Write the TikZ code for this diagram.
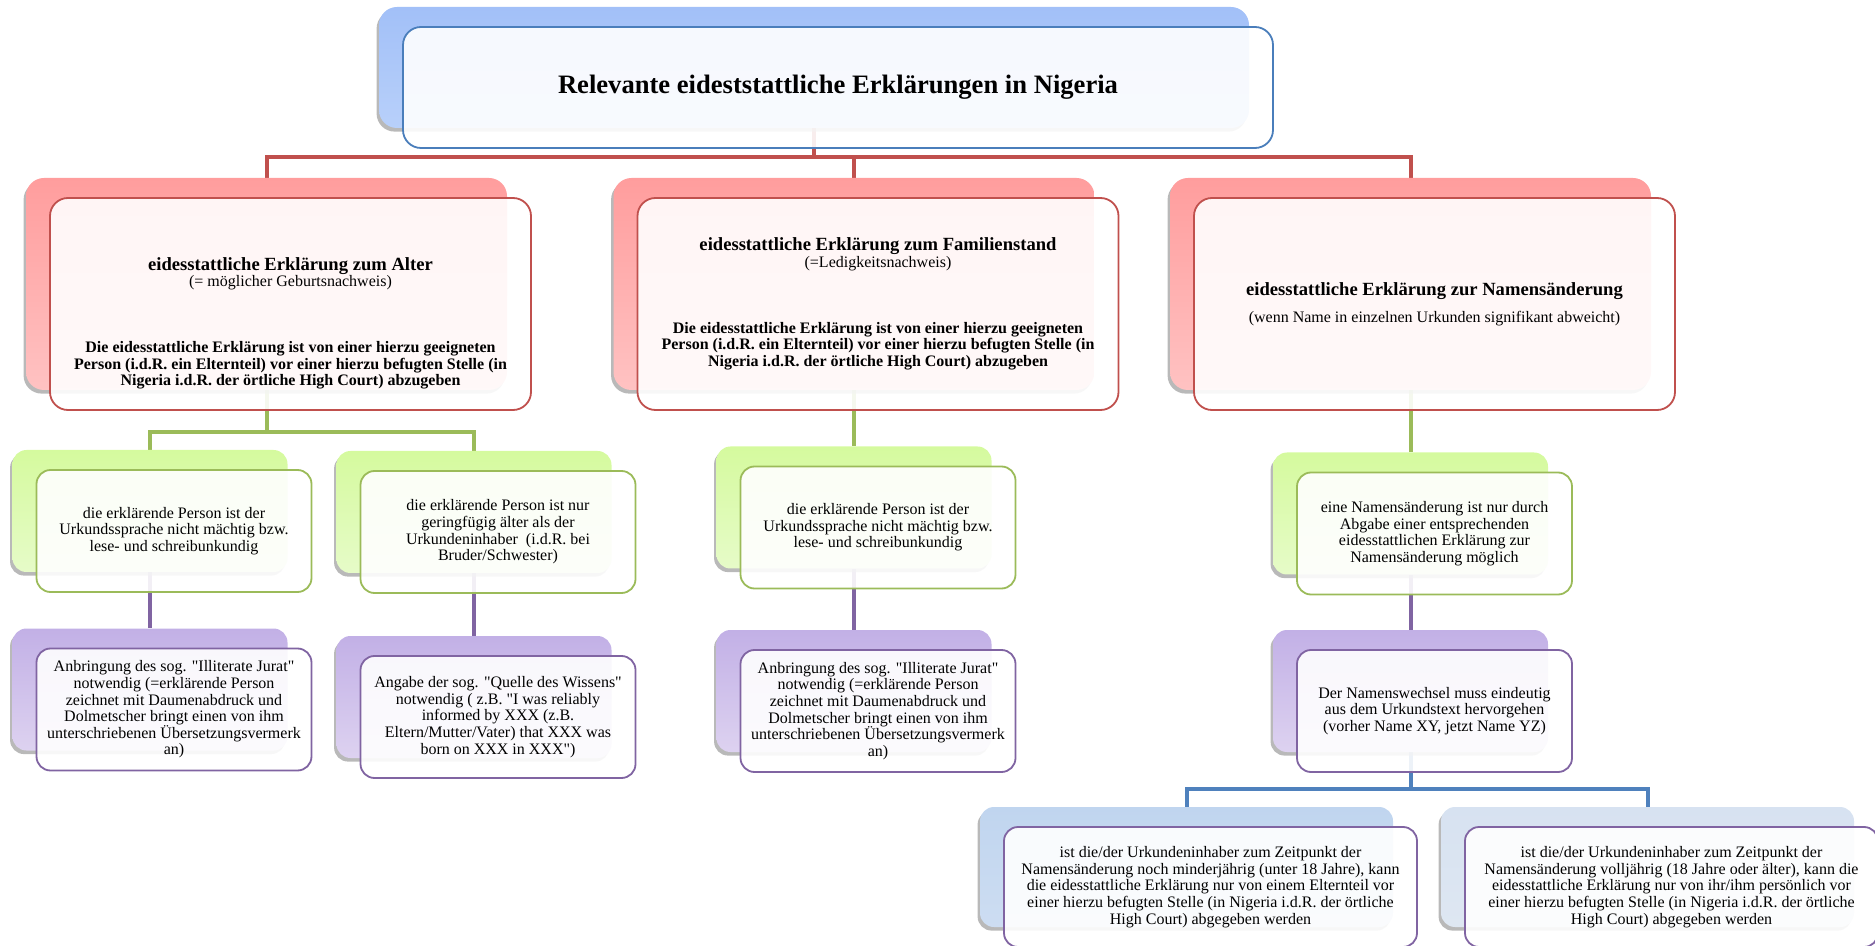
\documentclass[tikz,border=0pt]{standalone}
\usepackage{fontspec}
\setmainfont{Liberation Serif}
\usetikzlibrary{backgrounds, shadows}

\definecolor{lnred}{HTML}{C0504D}
\definecolor{lngreen}{HTML}{9BBB59}
\definecolor{lnpurple}{HTML}{8064A2}
\definecolor{lnblue}{HTML}{4F81BD}
\definecolor{lnframe}{HTML}{4A7EBB}

\newcommand{\headfont}{\fontsize{9.3}{8.4}\selectfont\bfseries}
\newcommand{\qq}{\textquotedbl{}}

\begin{document}
\begin{tikzpicture}[
    x=0.5pt, y=-0.5pt,
    back/.style={rounded corners=9pt,
                 drop shadow={shadow xshift=-1.2pt, shadow yshift=-1.8pt,
                              fill=black!50, opacity=.55}},
    front/.style={draw, rounded corners=9pt, fill=white, fill opacity=.9,
                  text opacity=1, line width=0.9pt, align=center, inner sep=2pt,
                  font=\fontsize{8}{8.3}\selectfont},
    topsize/.style={minimum width=435pt, minimum height=60.5pt},
    big/.style={minimum width=240.5pt, minimum height=106pt},
    small/.style={minimum width=137.5pt, minimum height=61pt, rounded corners=7pt},
    wide/.style={minimum width=206.5pt, minimum height=60pt, rounded corners=7pt},
    bktop/.style={back, topsize, top color={rgb,255:red,162;green,192;blue,248},
                  bottom color={rgb,255:red,184;green,208;blue,250}},
    bkred/.style={back, big, top color={rgb,255:red,255;green,157;blue,157},
                  bottom color={rgb,255:red,255;green,194;blue,194}},
    bkgreen/.style={back, small, top color={rgb,255:red,213;green,250;blue,158},
                    bottom color={rgb,255:red,230;green,251;blue,200}},
    bkpurple/.style={back, small, top color={rgb,255:red,194;green,176;blue,230},
                     bottom color={rgb,255:red,221;green,210;blue,240}},
    conn/.style={line width=2pt},
  ]
    \useasboundingbox (0,0) rectangle (1875,946);

    % back shapes
    \node[bktop] (bTop) at (814,67.5) {};
    \node[bkred] (bA) at (266.5,284) {};
    \node[bkred] (bB) at (854,284) {};
    \node[bkred] (bC) at (1410.5,284) {};
    \node[bkgreen] (gA1) at (150,511) {};
    \node[bkgreen] (gA2) at (474,512) {};
    \node[bkgreen] (gB1) at (854,507.5) {};
    \node[bkgreen] (gC1) at (1410.5,513.5) {};
    \node[bkpurple] (pA1) at (150,689.5) {};
    \node[bkpurple] (pA2) at (474,697) {};
    \node[bkpurple] (pB1) at (854,691) {};
    \node[bkpurple] (pC2) at (1410.5,691) {};
    \node[back, wide, top color={rgb,255:red,192;green,213;blue,239},
          bottom color={rgb,255:red,205;green,221;blue,242}] (dD1) at (1186.5,867) {};
    \node[back, wide, top color={rgb,255:red,215;green,226;blue,241},
          bottom color={rgb,255:red,222;green,231;blue,242}] (dD2) at (1647.5,867) {};

    % connectors
    \coordinate (redbar) at (0,157);
    \coordinate (greenbar) at (0,432);
    \coordinate (bluebar) at (0,789);
    \begin{pgfonlayer}{background}
      \draw[conn, lnred] (bTop.south) -- (bTop.south |- redbar);
      \draw[conn, lnred] (bA.north) |- (redbar -| bC.north) -- (bC.north);
      \draw[conn, lnred] (bB.north) -- (bB.north |- redbar);
      \draw[conn, lngreen] (bA.south) -- (bA.south |- greenbar);
      \draw[conn, lngreen] (gA1.north) |- (greenbar -| gA2.north) -- (gA2.north);
      \draw[conn, lngreen] (bB.south) -- (gB1.north);
      \draw[conn, lngreen] (bC.south) -- (gC1.north);
      \draw[conn, lnpurple] (gA1.south) -- (pA1.north);
      \draw[conn, lnpurple] (gA2.south) -- (pA2.north);
      \draw[conn, lnpurple] (gB1.south) -- (pB1.north);
      \draw[conn, lnpurple] (gC1.south) -- (pC2.north);
      \draw[conn, lnblue] (pC2.south) -- (pC2.south |- bluebar);
      \draw[conn, lnblue] (dD1.north) |- (bluebar -| dD2.north) -- (dD2.north);
    \end{pgfonlayer}

    % front boxes with the texts
    \node[front, topsize, draw=lnframe] (fTop) at ([shift={(24,20)}]bTop.center)
      {\fontsize{13.3}{16}\selectfont\bfseries Relevante eideststattliche Erklärungen in Nigeria};

    \node[front, big, draw=lnred] (fA) at ([shift={(24,20)}]bA.center)
      {\mbox{}\\[17.6pt]
       {\headfont eidesstattliche Erklärung zum Alter}\\
       (= möglicher Geburtsnachweis)\\[24.6pt]
       \textbf{Die eidesstattliche Erklärung ist von einer hierzu geeigneten}\\
       \textbf{Person (i.d.R. ein Elternteil) vor einer hierzu befugten Stelle (in}\\
       \textbf{Nigeria i.d.R. der örtliche High Court) abzugeben}};
    \node[front, big, draw=lnred] (fB) at ([shift={(24,20)}]bB.center)
      {{\headfont eidesstattliche Erklärung zum Familienstand}\\
       (=Ledigkeitsnachweis)\\[24.6pt]
       \textbf{Die eidesstattliche Erklärung ist von einer hierzu geeigneten}\\
       \textbf{Person (i.d.R. ein Elternteil) vor einer hierzu befugten Stelle (in}\\
       \textbf{Nigeria i.d.R. der örtliche High Court) abzugeben}};
    \node[front, big, draw=lnred] (fC) at ([shift={(24,20)}]bC.center)
      {{\headfont eidesstattliche Erklärung zur Namensänderung}\\[5pt]
       (wenn Name in einzelnen Urkunden signifikant abweicht)};

    \node[front, small, draw=lngreen] (fA1) at ([shift={(24,20)}]gA1.center)
      {die erklärende Person ist der\\Urkundssprache nicht mächtig bzw.\\lese- und schreibunkundig};
    \node[front, small, draw=lngreen] (fA2) at ([shift={(24,20)}]gA2.center)
      {die erklärende Person ist nur\\geringfügig älter als der\\Urkundeninhaber~ (i.d.R. bei\\Bruder/Schwester)};
    \node[front, small, draw=lngreen] (fB1) at ([shift={(24,20)}]gB1.center)
      {die erklärende Person ist der\\Urkundssprache nicht mächtig bzw.\\lese- und schreibunkundig};
    \node[front, small, draw=lngreen] (fC1) at ([shift={(24,20)}]gC1.center)
      {eine Namensänderung ist nur durch\\Abgabe einer entsprechenden\\eidesstattlichen Erklärung zur\\Namensänderung möglich};

    \node[front, small, draw=lnpurple] (qA1) at ([shift={(24,20)}]pA1.center)
      {Anbringung des sog. \qq Illiterate Jurat\qq\\notwendig (=erklärende Person\\zeichnet mit Daumenabdruck und\\Dolmetscher bringt einen von ihm\\unterschriebenen Übersetzungsvermerk\\an)};
    \node[front, small, draw=lnpurple] (qA2) at ([shift={(24,20)}]pA2.center)
      {Angabe der sog. \qq Quelle des Wissens\qq\\notwendig ( z.B. \qq I was reliably\\informed by XXX (z.B.\\Eltern/Mutter/Vater) that XXX was\\born on XXX in XXX\qq)};
    \node[front, small, draw=lnpurple] (qB1) at ([shift={(24,20)}]pB1.center)
      {Anbringung des sog. \qq Illiterate Jurat\qq\\notwendig (=erklärende Person\\zeichnet mit Daumenabdruck und\\Dolmetscher bringt einen von ihm\\unterschriebenen Übersetzungsvermerk\\an)};
    \node[front, small, draw=lnpurple] (qC2) at ([shift={(24,20)}]pC2.center)
      {Der Namenswechsel muss eindeutig\\aus dem Urkundstext hervorgehen\\(vorher Name XY, jetzt Name YZ)};

    \node[front, wide, draw=lnpurple] (eD1) at ([shift={(24,20)}]dD1.center)
      {ist die/der Urkundeninhaber zum Zeitpunkt der\\Namensänderung noch minderjährig (unter 18 Jahre), kann\\die eidesstattliche Erklärung nur von einem Elternteil vor\\einer hierzu befugten Stelle (in Nigeria i.d.R. der örtliche\\High Court) abgegeben werden};
    \node[front, wide, draw=lnpurple] (eD2) at ([shift={(24,20)}]dD2.center)
      {ist die/der Urkundeninhaber zum Zeitpunkt der\\Namensänderung volljährig (18 Jahre oder älter), kann die\\eidesstattliche Erklärung nur von ihr/ihm persönlich vor\\einer hierzu befugten Stelle (in Nigeria i.d.R. der örtliche\\High Court) abgegeben werden};
  \end{tikzpicture}
\end{document}
